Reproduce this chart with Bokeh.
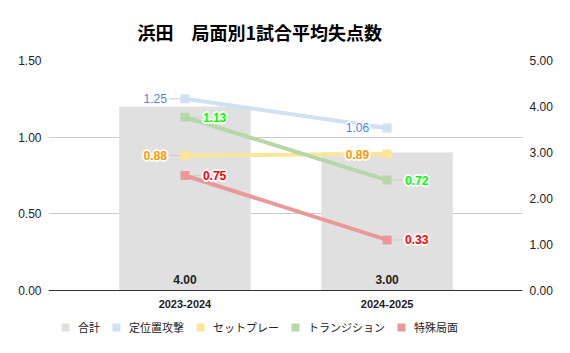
from bokeh.plotting import figure
from bokeh.models import (Range1d, LinearAxis, FixedTicker, NumeralTickFormatter,
                          Legend, LegendItem, ColumnDataSource, Span)
from bokeh.embed import file_html
from bokeh.resources import INLINE
from bokeh.core.properties import value

# ---------------- data ----------------
title_text = "浜田　局面別1試合平均失点数"
seasons = ["2023-2024", "2024-2025"]
total_name = "合計"
total = [4.00, 3.00]
series_names = ["定位置攻撃", "セットプレー", "トランジション", "特殊局面"]
set_position = [1.25, 1.06]
set_piece = [0.88, 0.89]
transition = [1.13, 0.72]
special = [0.75, 0.33]
left_ticks = [0.0, 0.5, 1.0, 1.5]
right_ticks = [0, 1, 2, 3, 4, 5]

# ---------------- styles ----------------
FONT = "'Liberation Sans', 'Noto Sans CJK JP'"
CJK = "'Noto Sans CJK JP'"
bar_color = "#e0e0e0"
line_colors = ["#cfe2f3", "#ffe599", "#b6d7a8", "#ea9999"]
label_colors = ["#4a86e8", "#ff9900", "#00ff00", "#ff0000"]
label_styles = ["normal", "bold", "bold", "bold"]
label_side = [-1, -1, 1, 1]  # -1: left of point, 1: right of point

# layout: plot area 474 x 230 px, plus a 63 px strip below the zero line
FRAME_W = 474
PLOT_H = 230
BELOW = 63
X0, X1 = -0.675, 1.67
PX = FRAME_W / (X1 - X0)             # pixels per x unit
L_MAX, R_MAX = 1.5, 5.0
L_PX = PLOT_H / L_MAX                # pixels per left-axis unit
R_PX = PLOT_H / R_MAX

xs = list(range(len(seasons)))

p = figure(frame_width=FRAME_W, frame_height=PLOT_H + BELOW, output_backend="svg",
           toolbar_location=None,
           x_range=Range1d(X0, X1), y_range=Range1d(-BELOW / L_PX, L_MAX),
           min_border_left=48, min_border_right=48, min_border_top=60,
           min_border_bottom=0, title=title_text)
p.outline_line_color = None
p.background_fill_color = "white"
p.border_fill_color = "white"

p.title.text_font = CJK
p.title.text_font_size = "18px"
p.title.text_font_style = "bold"
p.title.text_color = "#000000"
p.title.align = "left"
p.title.offset = 89
p.title.standoff = 32

p.extra_y_ranges = {"right": Range1d(-BELOW / R_PX, R_MAX)}

p.xaxis.visible = False

p.yaxis.ticker = FixedTicker(ticks=left_ticks)
p.yaxis.formatter = NumeralTickFormatter(format="0.00")
p.yaxis.axis_line_color = None
p.yaxis.major_tick_line_color = None
p.yaxis.minor_tick_line_color = None
p.yaxis.major_tick_out = 0
p.yaxis.major_tick_in = 0
p.yaxis.minor_tick_out = 0
p.yaxis.major_label_text_font = FONT
p.yaxis.major_label_text_font_size = "12px"
p.yaxis.major_label_text_color = "#222222"
p.yaxis.major_label_standoff = 7

ry = LinearAxis(y_range_name="right", ticker=FixedTicker(ticks=right_ticks),
                formatter=NumeralTickFormatter(format="0.00"))
ry.axis_line_color = None
ry.major_tick_line_color = None
ry.minor_tick_line_color = None
ry.major_tick_out = 0
ry.major_tick_in = 0
ry.minor_tick_out = 0
ry.major_label_text_font = FONT
ry.major_label_text_font_size = "12px"
ry.major_label_text_color = "#222222"
ry.major_label_standoff = 7
p.add_layout(ry, "right")

p.xgrid.visible = False
p.ygrid.ticker = FixedTicker(ticks=left_ticks)
p.ygrid.grid_line_color = "#cccccc"

# bars (right axis)
bar_src = ColumnDataSource(dict(x=xs, top=total, lab=["%.2f" % v for v in total],
                                cat=seasons))
bars = p.vbar(x="x", top="top", width=0.65, source=bar_src, y_range_name="right",
              fill_color=bar_color, line_color=None)
p.text(x="x", y=0, text="lab", source=bar_src, y_range_name="right",
       text_align="center", text_baseline="bottom", y_offset=-7,
       text_font=value(FONT), text_font_size="12px", text_font_style="bold",
       text_color="#222222")

# category axis (zero line + labels)
p.add_layout(Span(location=0, dimension="width", line_color="#333333", line_width=1))
p.text(x="x", y=0, text="cat", source=bar_src, text_align="center",
       text_baseline="middle", y_offset=13, text_font=value(FONT),
       text_font_size="11px", text_font_style="bold", text_color="#222222")

# lines
halo = [(-1, -1), (-1, 0), (-1, 1), (0, -1), (0, 1), (1, -1), (1, 0), (1, 1),
        (-2, 0), (2, 0), (0, -2), (0, 2)]
legend_renderers = []
for name, vals, lc, tc, st, side in zip(series_names,
                                        [set_position, set_piece, transition, special],
                                        line_colors, label_colors, label_styles, label_side):
    src = ColumnDataSource(dict(x=xs, y=vals, lab=["%.2f" % v for v in vals],
                                lx=[x + side * 16 / PX for x in xs]))
    p.segment(x0="x", y0="y", x1="lx", y1="y", source=src, line_color="#cccccc", line_width=1)
    p.line("x", "y", source=src, line_color=lc, line_width=4)
    p.scatter("x", "y", source=src, marker="square", size=9, fill_color=lc, line_color=None)
    align = "right" if side < 0 else "left"
    off = 18 * side
    for dx, dy in halo:
        p.text("x", "y", text="lab", source=src, text_align=align, text_baseline="middle",
               x_offset=off + dx, y_offset=dy, text_font=value(FONT), text_font_size="12px",
               text_font_style=st, text_color="white")
    p.text("x", "y", text="lab", source=src, text_align=align, text_baseline="middle",
           x_offset=off, y_offset=0, text_font=value(FONT), text_font_size="12px",
           text_font_style=st, text_color=tc)
    dummy = p.vbar(x=[0], top=[0], bottom=[0], width=0, fill_color=lc, line_color=None)
    legend_renderers.append(dummy)

items = [LegendItem(label=total_name, renderers=[bars])]
items += [LegendItem(label=n, renderers=[r]) for n, r in zip(series_names, legend_renderers)]
legend = Legend(items=items, orientation="horizontal", location=(12, 18),
                glyph_width=10, glyph_height=10, label_standoff=8, spacing=11,
                label_text_font=FONT, label_text_font_size="11px",
                label_text_color="#222222", border_line_color=None,
                background_fill_alpha=0, padding=0, margin=0)
p.add_layout(legend)

open("out.html", "w").write(file_html(p, INLINE))
